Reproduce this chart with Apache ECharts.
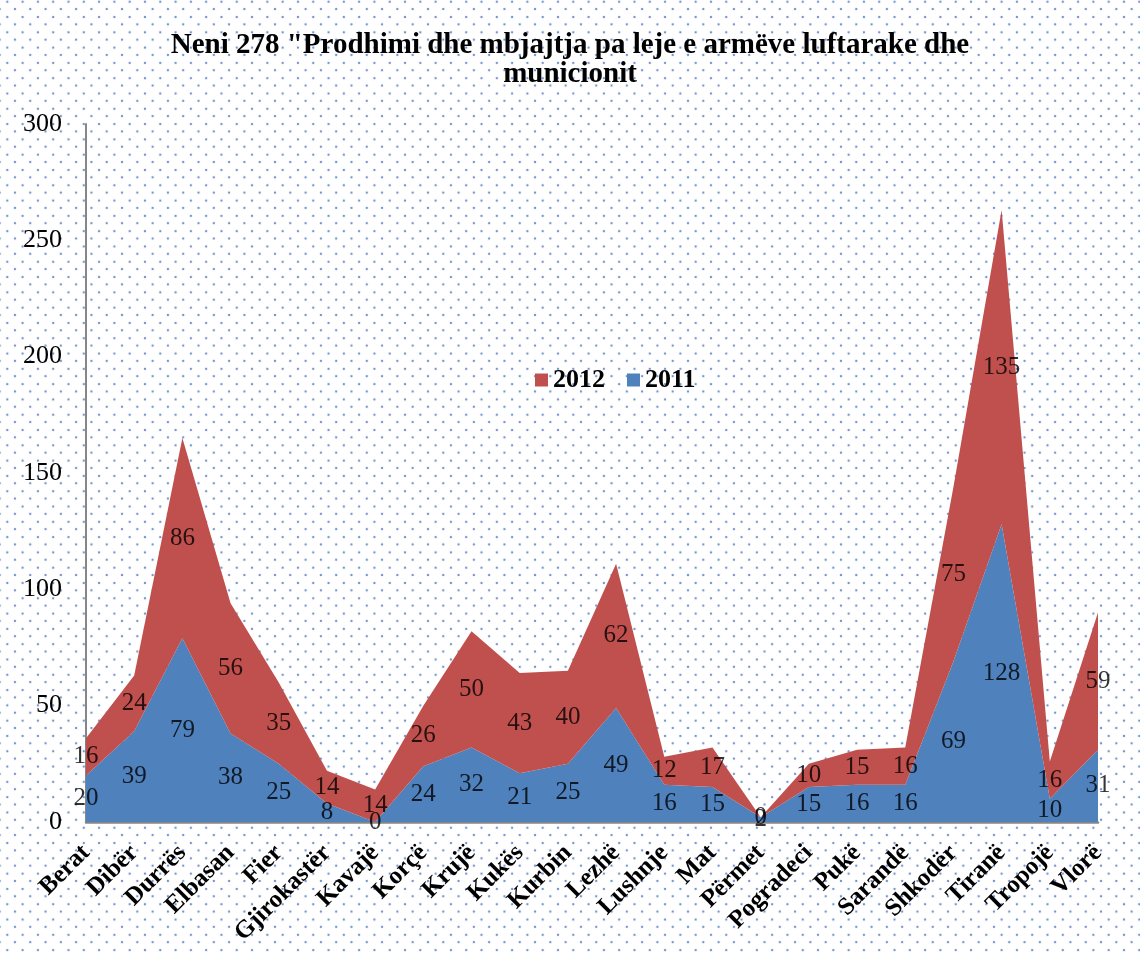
<!DOCTYPE html>
<html>
<head>
<meta charset="utf-8">
<script src="https://cdn.jsdelivr.net/npm/echarts@6/dist/echarts.min.js"></script>
<style>
html, body { margin: 0; padding: 0; }
body {
  width: 1140px; height: 955px;
  background-color: #ffffff;
  background-image:
    radial-gradient(circle at center, rgba(90,130,200,0.85) 0.7px, rgba(90,130,200,0.25) 1.2px, transparent 1.7px),
    radial-gradient(circle at center, rgba(90,130,200,0.85) 0.7px, rgba(90,130,200,0.25) 1.2px, transparent 1.7px);
  background-size: 15.3px 15.3px, 15.3px 15.3px;
  background-position: -0.35px -5.95px, 7.3px 1.4px;
}
#chart { width: 1140px; height: 955px; }
</style>
</head>
<body>
<div id="chart"></div>
<script>
const titleText = 'Neni 278 "Prodhimi dhe mbjajtja pa leje e armëve luftarake dhe\nmunicionit';
const categories = ['Berat','Dibër','Durrës','Elbasan','Fier','Gjirokastër','Kavajë','Korçë','Krujë','Kukës','Kurbin','Lezhë','Lushnje','Mat','Përmet','Pogradeci','Pukë','Sarandë','Shkodër','Tiranë','Tropojë','Vlorë'];
const values2011 = [20,39,79,38,25,8,0,24,32,21,25,49,16,15,2,15,16,16,69,128,10,31];
const values2012 = [16,24,86,56,35,14,14,26,50,43,40,62,12,17,0,10,15,16,75,135,16,59];
const yTicks = { min: 0, max: 300, interval: 50 };

const RED = '#C0504D';
const BLUE = '#4F81BD';
const SERIF = '"Liberation Serif", "Times New Roman", serif';

// label anchor points: middle of each stacked band
const mid2011 = values2011.map((v, i) => ({ value: [i, v / 2], raw: v }));
const mid2012 = values2012.map((v, i) => ({ value: [i, values2011[i] + v / 2], raw: v }));

const labelSeries = (name, data) => ({
  name: name + '_lbl',
  type: 'scatter',
  data: data,
  symbolSize: 0,
  silent: true,
  z: 10,
  label: {
    show: true,
    position: 'inside',
    formatter: p => String(p.data.raw),
    color: '#000',
    fontFamily: SERIF,
    fontSize: 25
  }
});

const chart = echarts.init(document.getElementById('chart'), null, { renderer: 'canvas' });
chart.setOption({
  backgroundColor: 'transparent',
  animation: false,
  title: {
    text: titleText,
    left: 'center',
    top: 26,
    textStyle: { fontFamily: SERIF, fontWeight: 'bold', fontSize: 29, color: '#000', lineHeight: 29 }
  },
  legend: {
    data: ['2012', '2011'],
    left: 530,
    top: 362,
    icon: 'rect',
    itemWidth: 13,
    itemHeight: 13,
    itemGap: 22,
    textStyle: { fontFamily: SERIF, fontWeight: 'bold', fontSize: 26, color: '#000' }
  },
  grid: { left: 86, right: 42, top: 124, bottom: 133, containLabel: false },
  xAxis: {
    type: 'category',
    data: categories,
    boundaryGap: false,
    axisLine: { show: true, lineStyle: { color: '#868686', width: 2.5 } },
    axisTick: { show: false },
    axisLabel: {
      rotate: 45,
      interval: 0,
      margin: 27,
      fontFamily: SERIF,
      fontWeight: 'bold',
      fontSize: 25,
      color: '#000'
    },
    splitLine: { show: false }
  },
  yAxis: {
    type: 'value',
    min: yTicks.min,
    max: yTicks.max,
    interval: yTicks.interval,
    axisLine: { show: true, lineStyle: { color: '#868686', width: 2 } },
    axisTick: { show: false },
    axisLabel: { margin: 24, fontFamily: SERIF, fontSize: 26, color: '#000' },
    splitLine: { show: false }
  },
  series: [
    {
      name: '2011',
      type: 'line',
      stack: 'total',
      data: values2011,
      symbol: 'none',
      lineStyle: { width: 0 },
      areaStyle: { color: BLUE, opacity: 1 },
      itemStyle: { color: BLUE }
    },
    {
      name: '2012',
      type: 'line',
      stack: 'total',
      data: values2012,
      symbol: 'none',
      lineStyle: { width: 0 },
      areaStyle: { color: RED, opacity: 1 },
      itemStyle: { color: RED }
    },
    labelSeries('2011', mid2011),
    labelSeries('2012', mid2012)
  ]
});
</script>
</body>
</html>
